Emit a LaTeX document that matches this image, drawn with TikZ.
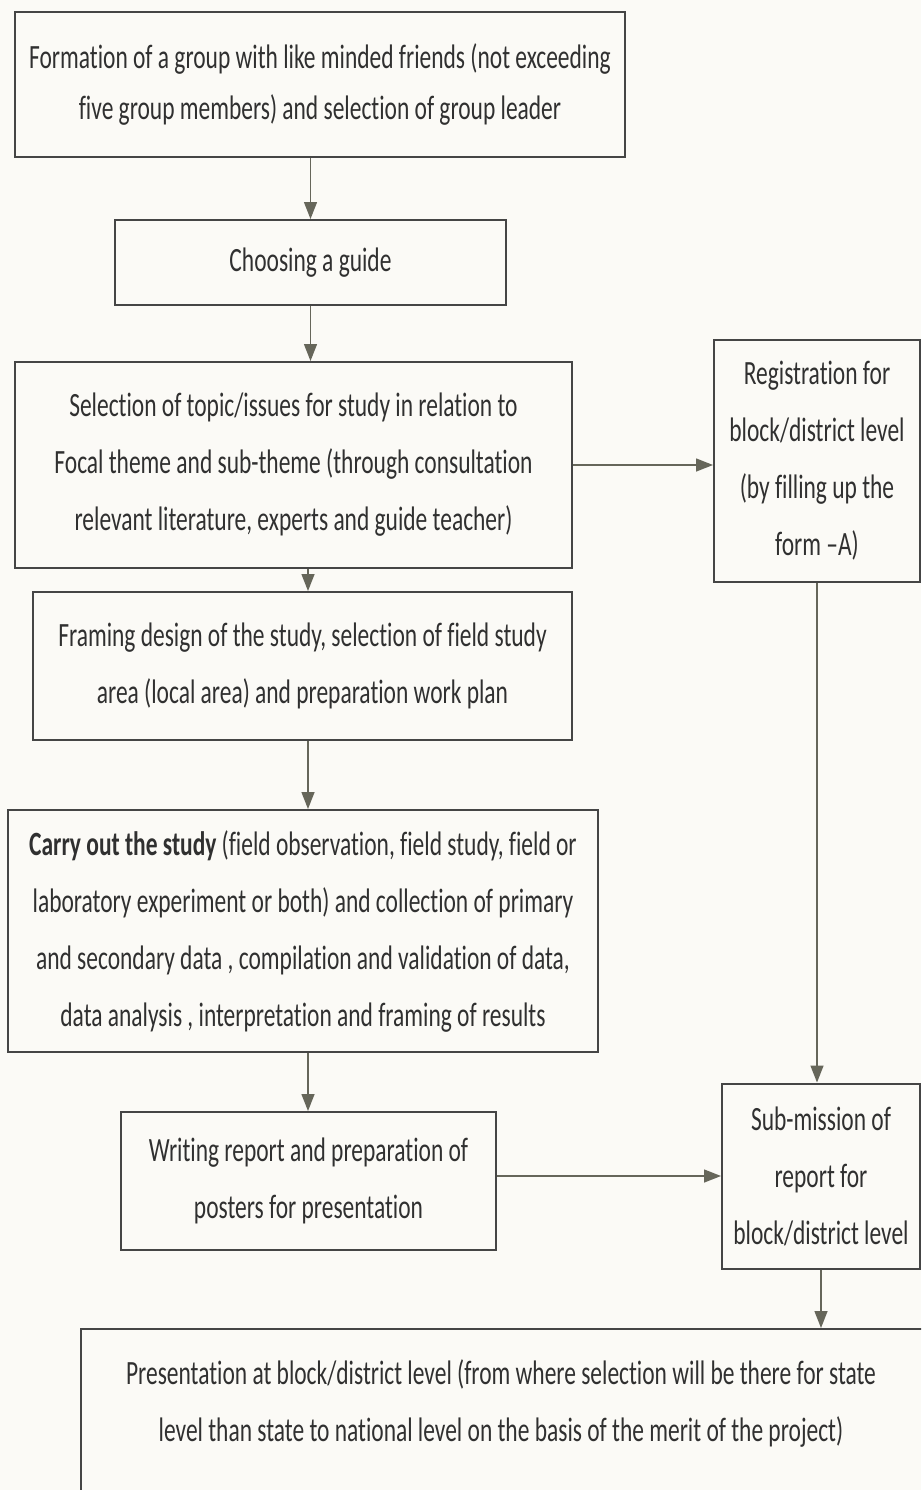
\documentclass[tikz,border=0pt]{standalone}
\usepackage{fontspec}
\newfontfamily\calfont[FakeStretch=0.69,Ligatures=NoCommon]{Carlito}
\usetikzlibrary{arrows.meta}
\definecolor{bg}{HTML}{FBFAF6}
\definecolor{edge}{HTML}{454545}
\definecolor{ink}{HTML}{303030}
\definecolor{arr}{HTML}{66665A}
\begin{document}
\begin{tikzpicture}[x=1pt,y=-1pt,
  txt/.style={align=center,inner sep=0pt,font=\calfont\fontsize{34}{57}\selectfont,text=ink},
  box/.style={txt,draw=edge,line width=2pt},
  conn/.style={draw=arr,line width=1.4pt,-{Triangle[length=17pt,width=13pt,fill=arr]}}]
\useasboundingbox (0,0) rectangle (921,1490);
\fill[bg] (0,0) rectangle (921,1490);
\clip (0,0) rectangle (921,1490);
\coordinate (ax) at (308,0);
\node[box,minimum width=610,minimum height=145,font=\calfont\fontsize{34}{51}\selectfont] (b1) at (320,84.5)
  {Formation of a group with like minded friends (not exceeding\\five group members) and selection of group leader};
\node[box,minimum width=391,minimum height=85] (b2) at (310.5,262.5) {Choosing a guide};
\node[box,minimum width=557,minimum height=206] (b3) at (293.5,465)
  {Selection of topic/issues for study in relation to\\Focal theme and sub-theme (through consultation\\relevant literature, experts and guide teacher)};
\node[box,minimum width=206,minimum height=242] (r1) at (817,461)
  {Registration for\\block/district level\\(by filling up the\\form –A)};
\node[box,minimum width=539,minimum height=148] (b4) at (302.5,666)
  {Framing design of the study, selection of field study\\area (local area) and preparation work plan};
\node[box,minimum width=590,minimum height=242] (b5) at (303,931)
  {\textbf{Carry out the study} (field observation, field study, field or\\laboratory experiment or both) and collection of primary\\and secondary data , compilation and validation of data,\\data analysis , interpretation and framing of results};
\node[box,minimum width=375,minimum height=138] (b6) at (308.5,1181)
  {Writing report and preparation of\\posters for presentation};
\node[box,minimum width=198,minimum height=185] (r2) at (821,1176)
  {Sub-mission of\\report for\\block/district level};
\node[box,anchor=north west,minimum width=870,minimum height=200] (b7) at (80,1328) {};
\node[txt] (b7t) at (501,1403)
  {Presentation at block/district level (from where selection will be there for state\\level than state to national level on the basis of the merit of the project)};
\draw[conn] (b1.south -| b2.north) -- (b2.north);
\draw[conn] (b2.south) -- (b2.south |- b3.north);
\draw[conn] (b3.south -| ax) -- (b4.north -| ax);
\draw[conn] (b4.south -| ax) -- (b5.north -| ax);
\draw[conn] (b5.south -| ax) -- (b6.north -| ax);
\draw[conn] (b3.east) -- (b3.east -| r1.west);
\draw[conn] (r1.south) -- (r1.south |- r2.north);
\draw[conn] (b6.east |- r2.west) -- (r2.west);
\draw[conn] (r2.south) -- (r2.south |- b7.north);
\end{tikzpicture}
\end{document}
